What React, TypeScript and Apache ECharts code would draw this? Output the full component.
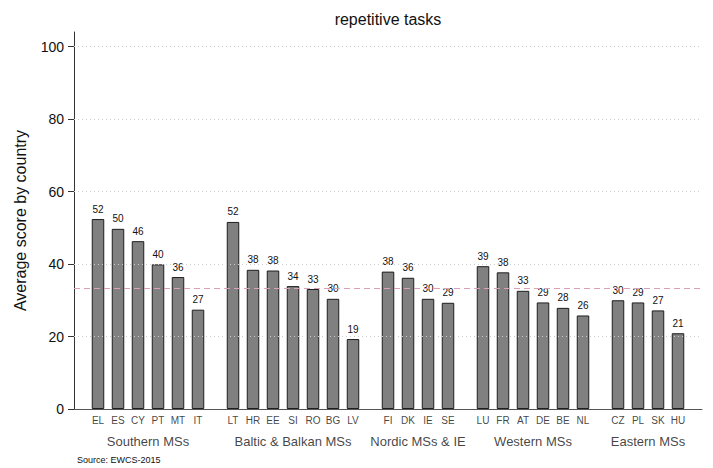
import React, { useEffect, useRef } from 'react';
import * as echarts from 'echarts';

const countries = ['EL', 'ES', 'CY', 'PT', 'MT', 'IT', 'LT', 'HR', 'EE', 'SI', 'RO', 'BG', 'LV', 'FI', 'DK', 'IE', 'SE', 'LU', 'FR', 'AT', 'DE', 'BE', 'NL', 'CZ', 'PL', 'SK', 'HU'];
const groupIndex = [0, 0, 0, 0, 0, 0, 1, 1, 1, 1, 1, 1, 1, 2, 2, 2, 2, 3, 3, 3, 3, 3, 3, 4, 4, 4, 4];
const groupNames = ['Southern MSs', 'Baltic & Balkan MSs', 'Nordic MSs & IE', 'Western MSs', 'Eastern MSs'];
const scores = [52.4, 49.7, 46.3, 39.9, 36.4, 27.4, 51.6, 38.4, 38.2, 33.9, 33.1, 30.4, 19.3, 37.9, 36.2, 30.4, 29.3, 39.4, 37.7, 32.6, 29.4, 27.9, 25.8, 30.0, 29.4, 27.2, 20.9];
const yTicks = [0, 20, 40, 60, 80, 100];
const averageScore = 33.2;
const titleText = 'repetitive tasks';
const yTitle = 'Average score by country';
const sourceText = 'Source: EWCS-2015';

const FONT = '"Liberation Sans", Arial, Helvetica, sans-serif';
const GROUP_GAP = 0.75;

export default function App() {
  const ref = useRef<HTMLDivElement>(null);

  useEffect(() => {
    if (!ref.current) return;
    const chart = echarts.init(ref.current, null, { renderer: 'svg' });

    const xPos = countries.map((_, i) => i + groupIndex[i] * GROUP_GAP);
    const groupCenters = groupNames.map((_, g) => {
      const xs = xPos.filter((_, i) => groupIndex[i] === g);
      return (Math.min(...xs) + Math.max(...xs)) / 2;
    });

    const option: any = {
      animation: false,
      backgroundColor: '#ffffff',
      textStyle: { fontFamily: FONT },
      grid: { left: 74, right: 11, top: 32, bottom: 59, containLabel: false },
      graphic: [
        {
          type: 'text',
          x: 388,
          y: 19,
          style: {
            text: titleText,
            font: `16px ${FONT}`,
            fill: '#111',
            textAlign: 'center',
            textVerticalAlign: 'middle',
          },
        },
        {
          type: 'text',
          x: 77,
          y: 460,
          style: {
            text: sourceText,
            font: `9px ${FONT}`,
            fill: '#111',
            textAlign: 'left',
            textVerticalAlign: 'middle',
          },
        },
      ],
      xAxis: {
        type: 'value',
        min: -1.2,
        max: 30.2,
        axisLine: { show: true, onZero: false, lineStyle: { color: '#555', width: 1 } },
        axisTick: { show: false },
        axisLabel: { show: false },
        splitLine: { show: false },
      },
      yAxis: {
        type: 'value',
        min: 0,
        max: 104,
        interval: 20,
        name: yTitle,
        nameLocation: 'middle',
        nameGap: 46,
        nameTextStyle: { fontSize: 16, color: '#111', fontFamily: FONT },
        axisLine: { show: true, onZero: false, lineStyle: { color: '#333', width: 1 } },
        axisTick: { show: true, length: 6, customValues: yTicks, lineStyle: { color: '#333' } },
        axisLabel: { customValues: yTicks, fontSize: 14, color: '#111', margin: 10, fontFamily: FONT },
        splitLine: { show: false },
      },
      series: [
        {
          type: 'line',
          data: [],
          z: 1,
          silent: true,
          markLine: {
            silent: true,
            symbol: 'none',
            label: { show: false },
            data: [
              ...yTicks.filter((t) => t > 0).map((t) => ({
                yAxis: t,
                lineStyle: { type: [1, 3], color: '#cccccc', width: 1 },
              })),
              { yAxis: averageScore, lineStyle: { type: [6, 4], color: '#d9a0b9', width: 1.2 } },
            ],
          },
        },
        {
          type: 'bar',
          z: 3,
          barWidth: 12.5,
          data: scores.map((v, i) => [xPos[i], v]),
          itemStyle: { color: '#808080', borderColor: '#1e1e1e', borderWidth: 1 },
          label: {
            show: true,
            position: 'top',
            distance: 5,
            fontSize: 10,
            color: '#111',
            fontFamily: FONT,
            formatter: (p: any) => String(Math.round(p.value[1])),
          },
        },
        {
          type: 'scatter',
          z: 4,
          symbolSize: 1,
          itemStyle: { color: 'rgba(0,0,0,0)' },
          data: countries.map((c, i) => ({ value: [xPos[i], 0], name: c })),
          label: {
            show: true,
            position: 'bottom',
            distance: 6,
            fontSize: 10,
            color: '#111',
            fontFamily: FONT,
            formatter: (p: any) => p.name,
          },
        },
        {
          type: 'scatter',
          z: 4,
          symbolSize: 1,
          itemStyle: { color: 'rgba(0,0,0,0)' },
          data: groupNames.map((g, i) => ({ value: [groupCenters[i], 0], name: g })),
          label: {
            show: true,
            position: 'bottom',
            distance: 25,
            fontSize: 13,
            color: '#111',
            fontFamily: FONT,
            formatter: (p: any) => p.name,
          },
        },
      ],
    };

    chart.setOption(option);
    return () => chart.dispose();
  }, []);

  return (
    <div
      ref={ref}
      style={{ position: 'fixed', left: 0, top: 0, width: 713, height: 468, background: '#fff' }}
    />
  );
}
